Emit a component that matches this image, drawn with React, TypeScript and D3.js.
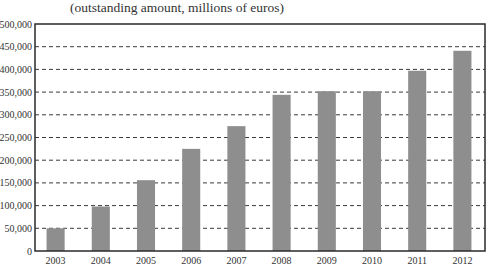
import * as d3 from 'd3';
import { useEffect, useRef } from 'react';

const years = ['2003', '2004', '2005', '2006', '2007', '2008', '2009', '2010', '2011', '2012'];
const outstanding = [50000, 98000, 156000, 225000, 275000, 344000, 352000, 352000, 397000, 441000];
const yTicks = [0, 50000, 100000, 150000, 200000, 250000, 300000, 350000, 400000, 450000, 500000];

const W = 489;
const H = 266;

export default function App() {
  const ref = useRef<SVGSVGElement>(null);

  useEffect(() => {
    const svg = d3.select(ref.current);
    svg.selectAll('*').remove();

    const left = 35;
    const right = 485;
    const top = 24;
    const bottom = 251;
    const font = '"Liberation Serif", "DejaVu Serif", serif';

    const x = d3.scaleBand<string>().domain(years).range([left - 2, right]).paddingInner(0.6).paddingOuter(0.3);
    const y = d3.scaleLinear().domain([0, 500000]).range([bottom, top]);

    svg.append('rect').attr('width', W).attr('height', H).attr('fill', '#fff');

    // dashed gridlines
    svg.append('g')
      .selectAll('line')
      .data(yTicks.filter((t) => t > 0 && t < 500000))
      .enter()
      .append('line')
      .attr('x1', left)
      .attr('x2', right)
      .attr('y1', (d) => y(d))
      .attr('y2', (d) => y(d))
      .attr('stroke', '#3a3a3a')
      .attr('stroke-width', 1)
      .attr('stroke-dasharray', '4,3');

    svg.append('g')
      .selectAll('rect')
      .data(years)
      .enter()
      .append('rect')
      .attr('x', (d) => x(d) as number)
      .attr('width', x.bandwidth())
      .attr('y', (_, i) => y(outstanding[i]))
      .attr('height', (_, i) => bottom - y(outstanding[i]))
      .attr('fill', '#8e8e8e');

    svg.append('rect')
      .attr('x', left)
      .attr('y', top)
      .attr('width', right - left)
      .attr('height', bottom - top)
      .attr('fill', 'none')
      .attr('stroke', '#2a2a2a')
      .attr('stroke-width', 1.5);

    const fmt = d3.format(',');
    svg.append('g')
      .selectAll('text')
      .data(yTicks)
      .enter()
      .append('text')
      .attr('x', left - 3)
      .attr('y', (d) => y(d))
      .attr('dy', '0.35em')
      .attr('text-anchor', 'end')
      .style('font-family', font)
      .style('font-size', '10px')
      .style('fill', '#333')
      .text((d) => fmt(d));

    svg.append('g')
      .selectAll('text')
      .data(years)
      .enter()
      .append('text')
      .attr('x', (d) => (x(d) as number) + x.bandwidth() / 2)
      .attr('y', 263.5)
      .attr('text-anchor', 'middle')
      .style('font-family', font)
      .style('font-size', '10px')
      .style('fill', '#333')
      .text((d) => d);

    svg.append('text')
      .attr('x', 177)
      .attr('y', 11.5)
      .attr('text-anchor', 'middle')
      .style('font-family', font)
      .style('font-size', '13.5px')
      .style('fill', '#333')
      .text('(outstanding amount, millions of euros)');
  }, []);

  return (
    <svg
      ref={ref}
      width={W}
      height={H}
      style={{ position: 'absolute', left: 0, top: 0, display: 'block' }}
    />
  );
}
